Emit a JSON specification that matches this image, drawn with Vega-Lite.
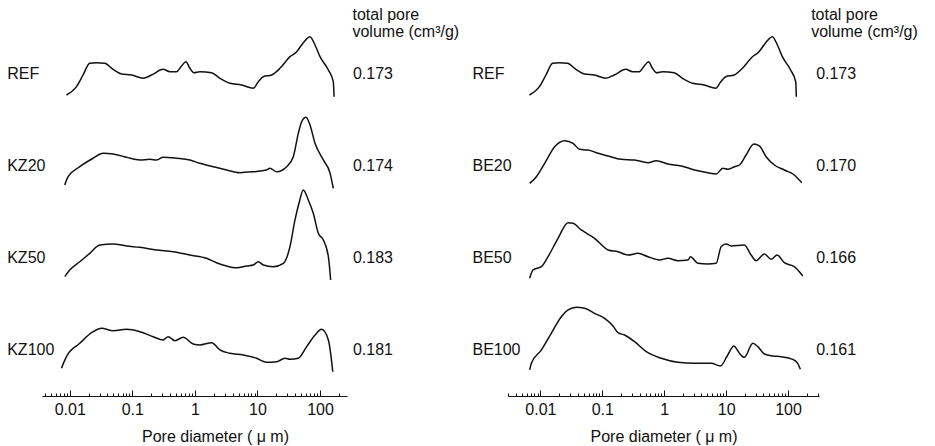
{
  "$schema": "https://vega.github.io/schema/vega-lite/v6.json",
  "padding": {"left": 7, "top": 5, "right": 5, "bottom": 2},
  "background": "white",
  "config": {
    "view": {"stroke": null},
    "font": "Liberation Sans",
    "text": {"font": "Liberation Sans", "fontSize": 16, "color": "#111"}
  },
  "datasets": {
    "left": [
      {"s":"REF","k":"n","t":"REF"},{"s":"KZ20","k":"n","t":"KZ20"},{"s":"KZ50","k":"n","t":"KZ50"},{"s":"KZ100","k":"n","t":"KZ100"},
      {"s":"REF","k":"v","t":"0.173"},{"s":"KZ20","k":"v","t":"0.174"},{"s":"KZ50","k":"v","t":"0.183"},{"s":"KZ100","k":"v","t":"0.181"},
      {"s":"REF","k":"h","t":"total pore|volume (cm³/g)"},
      {"s":"REF","k":"p","d":0.00885,"v":0.025},{"s":"REF","k":"p","d":0.0128,"v":0.129},{"s":"REF","k":"p","d":0.0163,"v":0.275},{"s":"REF","k":"p","d":0.0209,"v":0.421},{"s":"REF","k":"p","d":0.0267,"v":0.429},{"s":"REF","k":"p","d":0.0363,"v":0.421},{"s":"REF","k":"p","d":0.0493,"v":0.346},{"s":"REF","k":"p","d":0.0672,"v":0.288},{"s":"REF","k":"p","d":0.0971,"v":0.275},{"s":"REF","k":"p","d":0.149,"v":0.234},{"s":"REF","k":"p","d":0.203,"v":0.275},{"s":"REF","k":"p","d":0.311,"v":0.346},{"s":"REF","k":"p","d":0.398,"v":0.316},{"s":"REF","k":"p","d":0.509,"v":0.316},{"s":"REF","k":"p","d":0.612,"v":0.388},{"s":"REF","k":"p","d":0.718,"v":0.441},{"s":"REF","k":"p","d":0.832,"v":0.359},{"s":"REF","k":"p","d":0.964,"v":0.304},{"s":"REF","k":"p","d":1.2,"v":0.316},{"s":"REF","k":"p","d":1.85,"v":0.304},{"s":"REF","k":"p","d":2.51,"v":0.234},{"s":"REF","k":"p","d":3.63,"v":0.171},{"s":"REF","k":"p","d":5.58,"v":0.15},{"s":"REF","k":"p","d":8.57,"v":0.109},{"s":"REF","k":"p","d":10.3,"v":0.191},{"s":"REF","k":"p","d":12.4,"v":0.254},{"s":"REF","k":"p","d":16.9,"v":0.275},{"s":"REF","k":"p","d":22.9,"v":0.359},{"s":"REF","k":"p","d":33.1,"v":0.504},{"s":"REF","k":"p","d":42.4,"v":0.566},{"s":"REF","k":"p","d":54.1,"v":0.679},{"s":"REF","k":"p","d":69.2,"v":0.754},{"s":"REF","k":"p","d":83.2,"v":0.65},{"s":"REF","k":"p","d":100,"v":0.504},{"s":"REF","k":"p","d":136,"v":0.338},{"s":"REF","k":"p","d":163,"v":0.191},{"s":"REF","k":"p","d":168,"v":0.004},
      {"s":"KZ20","k":"p","d":0.00832,"v":0.05},{"s":"KZ20","k":"p","d":0.0094,"v":0.154},{"s":"KZ20","k":"p","d":0.01445,"v":0.279},{"s":"KZ20","k":"p","d":0.0236,"v":0.384},{"s":"KZ20","k":"p","d":0.0341,"v":0.446},{"s":"KZ20","k":"p","d":0.0493,"v":0.438},{"s":"KZ20","k":"p","d":0.0807,"v":0.396},{"s":"KZ20","k":"p","d":0.132,"v":0.363},{"s":"KZ20","k":"p","d":0.191,"v":0.371},{"s":"KZ20","k":"p","d":0.244,"v":0.363},{"s":"KZ20","k":"p","d":0.311,"v":0.396},{"s":"KZ20","k":"p","d":0.509,"v":0.384},{"s":"KZ20","k":"p","d":0.832,"v":0.363},{"s":"KZ20","k":"p","d":1.2,"v":0.321},{"s":"KZ20","k":"p","d":1.96,"v":0.279},{"s":"KZ20","k":"p","d":3.21,"v":0.238},{"s":"KZ20","k":"p","d":5.25,"v":0.204},{"s":"KZ20","k":"p","d":8.57,"v":0.216},{"s":"KZ20","k":"p","d":14,"v":0.238},{"s":"KZ20","k":"p","d":15.8,"v":0.259},{"s":"KZ20","k":"p","d":20.3,"v":0.216},{"s":"KZ20","k":"p","d":29.3,"v":0.279},{"s":"KZ20","k":"p","d":37.4,"v":0.404},{"s":"KZ20","k":"p","d":45,"v":0.696},{"s":"KZ20","k":"p","d":50.9,"v":0.841},{"s":"KZ20","k":"p","d":59.7,"v":0.896},{"s":"KZ20","k":"p","d":69.2,"v":0.8},{"s":"KZ20","k":"p","d":83.2,"v":0.571},{"s":"KZ20","k":"p","d":113,"v":0.363},{"s":"KZ20","k":"p","d":145,"v":0.196},{"s":"KZ20","k":"p","d":163,"v":0.009},
      {"s":"KZ50","k":"p","d":0.00832,"v":0.054},{"s":"KZ50","k":"p","d":0.01,"v":0.138},{"s":"KZ50","k":"p","d":0.01445,"v":0.241},{"s":"KZ50","k":"p","d":0.0209,"v":0.346},{"s":"KZ50","k":"p","d":0.0302,"v":0.45},{"s":"KZ50","k":"p","d":0.0493,"v":0.463},{"s":"KZ50","k":"p","d":0.0807,"v":0.438},{"s":"KZ50","k":"p","d":0.132,"v":0.421},{"s":"KZ50","k":"p","d":0.244,"v":0.388},{"s":"KZ50","k":"p","d":0.45,"v":0.366},{"s":"KZ50","k":"p","d":0.832,"v":0.325},{"s":"KZ50","k":"p","d":1.54,"v":0.284},{"s":"KZ50","k":"p","d":2.22,"v":0.229},{"s":"KZ50","k":"p","d":3.21,"v":0.188},{"s":"KZ50","k":"p","d":4.65,"v":0.166},{"s":"KZ50","k":"p","d":6.72,"v":0.188},{"s":"KZ50","k":"p","d":8.57,"v":0.2},{"s":"KZ50","k":"p","d":10.3,"v":0.241},{"s":"KZ50","k":"p","d":12.4,"v":0.2},{"s":"KZ50","k":"p","d":17.9,"v":0.179},{"s":"KZ50","k":"p","d":25.9,"v":0.221},{"s":"KZ50","k":"p","d":33.1,"v":0.429},{"s":"KZ50","k":"p","d":39.8,"v":0.763},{"s":"KZ50","k":"p","d":46.1,"v":0.971},{"s":"KZ50","k":"p","d":54.1,"v":1.138},{"s":"KZ50","k":"p","d":65,"v":1.013},{"s":"KZ50","k":"p","d":78.1,"v":0.846},{"s":"KZ50","k":"p","d":93.9,"v":0.596},{"s":"KZ50","k":"p","d":113,"v":0.513},{"s":"KZ50","k":"p","d":136,"v":0.304},{"s":"KZ50","k":"p","d":148,"v":0.013},
      {"s":"KZ100","k":"p","d":0.00736,"v":0.059},{"s":"KZ100","k":"p","d":0.00885,"v":0.204},{"s":"KZ100","k":"p","d":0.01445,"v":0.371},{"s":"KZ100","k":"p","d":0.0236,"v":0.516},{"s":"KZ100","k":"p","d":0.0321,"v":0.559},{"s":"KZ100","k":"p","d":0.0493,"v":0.529},{"s":"KZ100","k":"p","d":0.0807,"v":0.546},{"s":"KZ100","k":"p","d":0.132,"v":0.516},{"s":"KZ100","k":"p","d":0.215,"v":0.454},{"s":"KZ100","k":"p","d":0.311,"v":0.413},{"s":"KZ100","k":"p","d":0.374,"v":0.454},{"s":"KZ100","k":"p","d":0.479,"v":0.404},{"s":"KZ100","k":"p","d":0.65,"v":0.446},{"s":"KZ100","k":"p","d":0.939,"v":0.363},{"s":"KZ100","k":"p","d":1.2,"v":0.35},{"s":"KZ100","k":"p","d":1.85,"v":0.379},{"s":"KZ100","k":"p","d":2.51,"v":0.288},{"s":"KZ100","k":"p","d":3.63,"v":0.246},{"s":"KZ100","k":"p","d":5.93,"v":0.225},{"s":"KZ100","k":"p","d":9.71,"v":0.184},{"s":"KZ100","k":"p","d":14,"v":0.134},{"s":"KZ100","k":"p","d":20.3,"v":0.141},{"s":"KZ100","k":"p","d":27.5,"v":0.184},{"s":"KZ100","k":"p","d":33.1,"v":0.171},{"s":"KZ100","k":"p","d":45,"v":0.184},{"s":"KZ100","k":"p","d":61.2,"v":0.329},{"s":"KZ100","k":"p","d":83.2,"v":0.475},{"s":"KZ100","k":"p","d":106,"v":0.546},{"s":"KZ100","k":"p","d":136,"v":0.413},{"s":"KZ100","k":"p","d":160,"v":0.016}
    ],
    "right": [
      {"s":"REF","k":"n","t":"REF"},{"s":"BE20","k":"n","t":"BE20"},{"s":"BE50","k":"n","t":"BE50"},{"s":"BE100","k":"n","t":"BE100"},
      {"s":"REF","k":"v","t":"0.173"},{"s":"BE20","k":"v","t":"0.170"},{"s":"BE50","k":"v","t":"0.166"},{"s":"BE100","k":"v","t":"0.161"},
      {"s":"REF","k":"h","t":"total pore|volume (cm³/g)"},
      {"s":"REF","k":"p","d":0.00665,"v":0.025},{"s":"REF","k":"p","d":0.00964,"v":0.129},{"s":"REF","k":"p","d":0.0123,"v":0.275},{"s":"REF","k":"p","d":0.0158,"v":0.421},{"s":"REF","k":"p","d":0.0202,"v":0.429},{"s":"REF","k":"p","d":0.0275,"v":0.421},{"s":"REF","k":"p","d":0.0375,"v":0.346},{"s":"REF","k":"p","d":0.0513,"v":0.288},{"s":"REF","k":"p","d":0.0743,"v":0.275},{"s":"REF","k":"p","d":0.114,"v":0.234},{"s":"REF","k":"p","d":0.156,"v":0.275},{"s":"REF","k":"p","d":0.24,"v":0.346},{"s":"REF","k":"p","d":0.308,"v":0.316},{"s":"REF","k":"p","d":0.395,"v":0.316},{"s":"REF","k":"p","d":0.476,"v":0.388},{"s":"REF","k":"p","d":0.558,"v":0.441},{"s":"REF","k":"p","d":0.647,"v":0.359},{"s":"REF","k":"p","d":0.751,"v":0.304},{"s":"REF","k":"p","d":0.939,"v":0.316},{"s":"REF","k":"p","d":1.45,"v":0.304},{"s":"REF","k":"p","d":1.97,"v":0.234},{"s":"REF","k":"p","d":2.86,"v":0.171},{"s":"REF","k":"p","d":4.42,"v":0.15},{"s":"REF","k":"p","d":6.8,"v":0.109},{"s":"REF","k":"p","d":8.18,"v":0.191},{"s":"REF","k":"p","d":9.86,"v":0.254},{"s":"REF","k":"p","d":13.5,"v":0.275},{"s":"REF","k":"p","d":18.3,"v":0.359},{"s":"REF","k":"p","d":26.6,"v":0.504},{"s":"REF","k":"p","d":34,"v":0.566},{"s":"REF","k":"p","d":43.5,"v":0.679},{"s":"REF","k":"p","d":55.8,"v":0.754},{"s":"REF","k":"p","d":67.2,"v":0.65},{"s":"REF","k":"p","d":80.9,"v":0.504},{"s":"REF","k":"p","d":110,"v":0.338},{"s":"REF","k":"p","d":133,"v":0.191},{"s":"REF","k":"p","d":136,"v":0.004},
      {"s":"BE20","k":"p","d":0.00672,"v":0.071},{"s":"BE20","k":"p","d":0.00862,"v":0.154},{"s":"BE20","k":"p","d":0.01173,"v":0.321},{"s":"BE20","k":"p","d":0.017,"v":0.529},{"s":"BE20","k":"p","d":0.0247,"v":0.604},{"s":"BE20","k":"p","d":0.0337,"v":0.571},{"s":"BE20","k":"p","d":0.0431,"v":0.496},{"s":"BE20","k":"p","d":0.0588,"v":0.488},{"s":"BE20","k":"p","d":0.0853,"v":0.446},{"s":"BE20","k":"p","d":0.124,"v":0.413},{"s":"BE20","k":"p","d":0.202,"v":0.371},{"s":"BE20","k":"p","d":0.332,"v":0.363},{"s":"BE20","k":"p","d":0.546,"v":0.329},{"s":"BE20","k":"p","d":0.743,"v":0.354},{"s":"BE20","k":"p","d":1.15,"v":0.313},{"s":"BE20","k":"p","d":1.88,"v":0.288},{"s":"BE20","k":"p","d":3.08,"v":0.238},{"s":"BE20","k":"p","d":5.07,"v":0.204},{"s":"BE20","k":"p","d":6.9,"v":0.188},{"s":"BE20","k":"p","d":8.85,"v":0.259},{"s":"BE20","k":"p","d":10.6,"v":0.246},{"s":"BE20","k":"p","d":13.6,"v":0.279},{"s":"BE20","k":"p","d":16.4,"v":0.3},{"s":"BE20","k":"p","d":21,"v":0.425},{"s":"BE20","k":"p","d":28,"v":0.563},{"s":"BE20","k":"p","d":34.4,"v":0.538},{"s":"BE20","k":"p","d":44.2,"v":0.404},{"s":"BE20","k":"p","d":60.1,"v":0.3},{"s":"BE20","k":"p","d":87.1,"v":0.238},{"s":"BE20","k":"p","d":126,"v":0.175},{"s":"BE20","k":"p","d":166,"v":0.079},
      {"s":"BE50","k":"p","d":0.00672,"v":0.034},{"s":"BE50","k":"p","d":0.00762,"v":0.138},{"s":"BE50","k":"p","d":0.0104,"v":0.179},{"s":"BE50","k":"p","d":0.0133,"v":0.304},{"s":"BE50","k":"p","d":0.0193,"v":0.534},{"s":"BE50","k":"p","d":0.028,"v":0.729},{"s":"BE50","k":"p","d":0.0337,"v":0.721},{"s":"BE50","k":"p","d":0.0458,"v":0.638},{"s":"BE50","k":"p","d":0.0751,"v":0.534},{"s":"BE50","k":"p","d":0.124,"v":0.388},{"s":"BE50","k":"p","d":0.179,"v":0.366},{"s":"BE50","k":"p","d":0.26,"v":0.325},{"s":"BE50","k":"p","d":0.377,"v":0.346},{"s":"BE50","k":"p","d":0.546,"v":0.304},{"s":"BE50","k":"p","d":0.84,"v":0.263},{"s":"BE50","k":"p","d":1.15,"v":0.284},{"s":"BE50","k":"p","d":1.66,"v":0.254},{"s":"BE50","k":"p","d":2.41,"v":0.263},{"s":"BE50","k":"p","d":2.66,"v":0.304},{"s":"BE50","k":"p","d":3.5,"v":0.221},{"s":"BE50","k":"p","d":5.07,"v":0.213},{"s":"BE50","k":"p","d":6.9,"v":0.221},{"s":"BE50","k":"p","d":8.3,"v":0.429},{"s":"BE50","k":"p","d":10,"v":0.463},{"s":"BE50","k":"p","d":12,"v":0.438},{"s":"BE50","k":"p","d":19.7,"v":0.45},{"s":"BE50","k":"p","d":25.3,"v":0.325},{"s":"BE50","k":"p","d":30.5,"v":0.254},{"s":"BE50","k":"p","d":41.5,"v":0.338},{"s":"BE50","k":"p","d":53.2,"v":0.271},{"s":"BE50","k":"p","d":66.5,"v":0.325},{"s":"BE50","k":"p","d":87.1,"v":0.229},{"s":"BE50","k":"p","d":126,"v":0.179},{"s":"BE50","k":"p","d":173,"v":0.063},
      {"s":"BE100","k":"p","d":0.00672,"v":0.038},{"s":"BE100","k":"p","d":0.00716,"v":0.121},{"s":"BE100","k":"p","d":0.0104,"v":0.288},{"s":"BE100","k":"p","d":0.015,"v":0.496},{"s":"BE100","k":"p","d":0.0218,"v":0.704},{"s":"BE100","k":"p","d":0.028,"v":0.788},{"s":"BE100","k":"p","d":0.0381,"v":0.821},{"s":"BE100","k":"p","d":0.0518,"v":0.809},{"s":"BE100","k":"p","d":0.0751,"v":0.746},{"s":"BE100","k":"p","d":0.109,"v":0.684},{"s":"BE100","k":"p","d":0.149,"v":0.588},{"s":"BE100","k":"p","d":0.179,"v":0.504},{"s":"BE100","k":"p","d":0.229,"v":0.475},{"s":"BE100","k":"p","d":0.332,"v":0.391},{"s":"BE100","k":"p","d":0.513,"v":0.266},{"s":"BE100","k":"p","d":0.895,"v":0.184},{"s":"BE100","k":"p","d":1.66,"v":0.134},{"s":"BE100","k":"p","d":3.08,"v":0.121},{"s":"BE100","k":"p","d":5.73,"v":0.121},{"s":"BE100","k":"p","d":8.09,"v":0.088},{"s":"BE100","k":"p","d":10.6,"v":0.225},{"s":"BE100","k":"p","d":13.3,"v":0.338},{"s":"BE100","k":"p","d":16.4,"v":0.246},{"s":"BE100","k":"p","d":19.7,"v":0.196},{"s":"BE100","k":"p","d":27,"v":0.371},{"s":"BE100","k":"p","d":32.5,"v":0.329},{"s":"BE100","k":"p","d":41.5,"v":0.238},{"s":"BE100","k":"p","d":56.6,"v":0.213},{"s":"BE100","k":"p","d":77.1,"v":0.204},{"s":"BE100","k":"p","d":119,"v":0.171},{"s":"BE100","k":"p","d":143,"v":0.121},{"s":"BE100","k":"p","d":158,"v":0.046}
    ]
  },
  "hconcat": [
    {
      "data": {"name": "left"},
      "facet": {"row": {"field": "s", "type": "nominal", "sort": ["REF", "KZ20", "KZ50", "KZ100"], "header": {"title": null, "labels": false}}},
      "spacing": {"row": 0},
      "bounds": "flush",
      "spec": {
        "width": 305,
        "height": 92,
        "layer": [
          {
            "transform": [{"filter": "datum.k == 'p'"}],
            "mark": {"type": "line", "color": "#111", "strokeWidth": 1.5, "interpolate": "monotone"},
            "encoding": {
              "x": {"field": "d", "type": "quantitative",
                "scale": {"type": "log", "domain": [0.0036, 270], "nice": false},
                "axis": {"title": "Pore diameter ( μ m)", "titleFont": "Liberation Sans", "titleFontSize": 16, "titleFontWeight": "normal", "titleColor": "#111", "titlePadding": 8, "titleX": 173,
                  "offset": 23, "grid": false, "domainColor": "#111", "tickColor": "#111", "domainWidth": 1, "tickWidth": 1,
                  "values": [0.004,0.005,0.006,0.007,0.008,0.009,0.01,0.02,0.03,0.04,0.05,0.06,0.07,0.08,0.09,0.1,0.2,0.3,0.4,0.5,0.6,0.7,0.8,0.9,1,2,3,4,5,6,7,8,9,10,20,30,40,50,60,70,80,90,100,200],
                  "tickSize": {"condition": {"test": "indexof([0.01,0.1,1,10,100], datum.value) >= 0", "value": -6}, "value": -3},
                  "labelExpr": "indexof([0.01,0.1,1,10,100], datum.value) >= 0 ? format(datum.value, '~g') : ''",
                  "labelOverlap": false, "labelFlush": false, "labelPadding": 11, "labelFont": "Liberation Sans", "labelFontSize": 16, "labelColor": "#111"}},
              "y": {"field": "v", "type": "quantitative", "scale": {"domain": [0, 1.15], "nice": false, "zero": false}, "axis": null}
            }
          },
          {
            "transform": [{"filter": "datum.k == 'n'"}],
            "mark": {"type": "text", "align": "left", "baseline": "middle"},
            "encoding": {"x": {"datum": 0.001}, "y": {"datum": 0.29}, "text": {"field": "t"}}
          },
          {
            "transform": [{"filter": "datum.k == 'v'"}],
            "mark": {"type": "text", "align": "left", "baseline": "middle"},
            "encoding": {"x": {"datum": 336}, "y": {"datum": 0.29}, "text": {"field": "t"}}
          },
          {
            "transform": [{"filter": "datum.k == 'h'"}],
            "mark": {"type": "text", "align": "left", "baseline": "middle", "lineBreak": "|", "lineHeight": 17},
            "encoding": {"x": {"datum": 330}, "y": {"datum": 1.02}, "text": {"field": "t"}}
          }
        ]
      }
    },
    {
      "data": {"name": "right"},
      "facet": {"row": {"field": "s", "type": "nominal", "sort": ["REF", "BE20", "BE50", "BE100"], "header": {"title": null, "labels": false}}},
      "spacing": {"row": 0},
      "bounds": "flush",
      "spec": {
        "width": 311,
        "height": 92,
        "layer": [
          {
            "transform": [{"filter": "datum.k == 'p'"}],
            "mark": {"type": "line", "color": "#111", "strokeWidth": 1.5, "interpolate": "monotone"},
            "encoding": {
              "x": {"field": "d", "type": "quantitative",
                "scale": {"type": "log", "domain": [0.003, 316], "nice": false},
                "axis": {"title": "Pore diameter ( μ m)", "titleFont": "Liberation Sans", "titleFontSize": 16, "titleFontWeight": "normal", "titleColor": "#111", "titlePadding": 8,
                  "offset": 23, "grid": false, "domainColor": "#111", "tickColor": "#111", "domainWidth": 1, "tickWidth": 1,
                  "values": [0.003,0.004,0.005,0.006,0.007,0.008,0.009,0.01,0.02,0.03,0.04,0.05,0.06,0.07,0.08,0.09,0.1,0.2,0.3,0.4,0.5,0.6,0.7,0.8,0.9,1,2,3,4,5,6,7,8,9,10,20,30,40,50,60,70,80,90,100,200,300],
                  "tickSize": {"condition": {"test": "indexof([0.01,0.1,1,10,100], datum.value) >= 0", "value": -6}, "value": -3},
                  "labelExpr": "indexof([0.01,0.1,1,10,100], datum.value) >= 0 ? format(datum.value, '~g') : ''",
                  "labelOverlap": false, "labelFlush": false, "labelPadding": 11, "labelFont": "Liberation Sans", "labelFontSize": 16, "labelColor": "#111"}},
              "y": {"field": "v", "type": "quantitative", "scale": {"domain": [0, 1.15], "nice": false, "zero": false}, "axis": null}
            }
          },
          {
            "transform": [{"filter": "datum.k == 'n'"}],
            "mark": {"type": "text", "align": "left", "baseline": "middle"},
            "encoding": {"x": {"datum": 0.0008}, "y": {"datum": 0.29}, "text": {"field": "t"}}
          },
          {
            "transform": [{"filter": "datum.k == 'v'"}],
            "mark": {"type": "text", "align": "left", "baseline": "middle"},
            "encoding": {"x": {"datum": 284}, "y": {"datum": 0.29}, "text": {"field": "t"}}
          },
          {
            "transform": [{"filter": "datum.k == 'h'"}],
            "mark": {"type": "text", "align": "left", "baseline": "middle", "lineBreak": "|", "lineHeight": 17},
            "encoding": {"x": {"datum": 236}, "y": {"datum": 1.02}, "text": {"field": "t"}}
          }
        ]
      }
    }
  ],
  "spacing": 12,
  "resolve": {"scale": {"x": "independent", "y": "independent"}}
}
